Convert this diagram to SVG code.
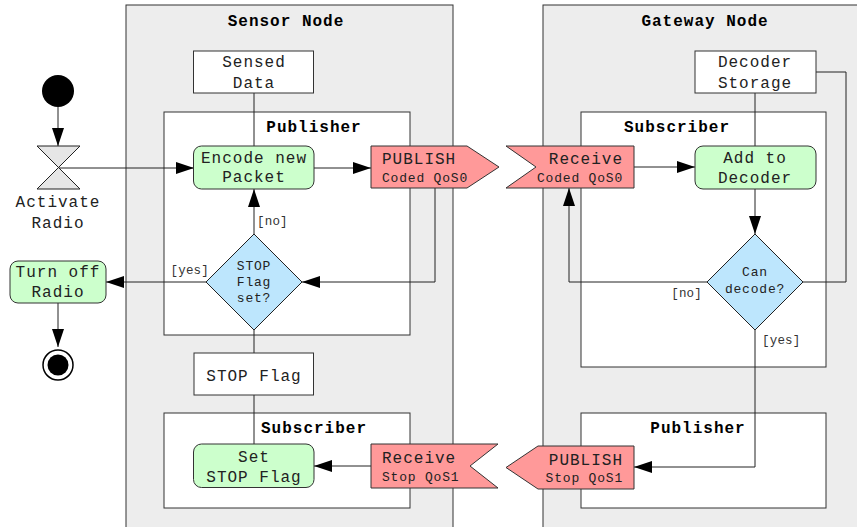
<svg xmlns="http://www.w3.org/2000/svg" width="857" height="527" viewBox="0 0 857 527">
<defs>
<marker id="arr" markerUnits="userSpaceOnUse" markerWidth="18" markerHeight="12" refX="18" refY="6" orient="auto">
<path d="M0,0 L18,6 L0,12 z" fill="#000"/>
</marker>
<style>
.lane{fill:#ededed;stroke:#333;stroke-width:1}
.frame{fill:#fff;stroke:#333;stroke-width:1}
.box{fill:#fff;stroke:#333;stroke-width:1}
.act{fill:#ccffcc;stroke:#333;stroke-width:1}
.sig{fill:#ff9999;stroke:#333;stroke-width:1}
.dec{fill:#bde6fd;stroke:#222;stroke-width:1}
.ln{fill:none;stroke:#222;stroke-width:1}
.ar{fill:none;stroke:#222;stroke-width:1;marker-end:url(#arr)}
text{font-family:"Liberation Mono","Courier New",monospace;fill:#222}
.t{font-size:16px;letter-spacing:1px}
.s{font-size:13px;letter-spacing:0.8px}
.g{font-size:12.5px;letter-spacing:0.2px;fill:#333}
.b{font-size:16px;letter-spacing:1px;font-weight:bold;fill:#000}
.m{text-anchor:middle}
.e{text-anchor:end}
</style>
</defs>

<g id="lanes">
<g id="sensor-node">
<rect class="lane" x="126" y="5" width="327" height="530"/>
<text class="b m" x="286" y="26">Sensor Node</text>
</g>
<g id="gateway-node">
<rect class="lane" x="543" y="5" width="330" height="530"/>
<text class="b m" x="705" y="26">Gateway Node</text>
</g>
</g>

<g id="frames">
<g id="sensor-publisher">
<rect class="frame" x="164" y="112" width="246" height="223"/>
<text class="b m" x="314" y="132">Publisher</text>
</g>
<g id="sensor-subscriber">
<rect class="frame" x="164" y="413" width="246" height="95"/>
<text class="b m" x="314" y="433">Subscriber</text>
</g>
<g id="gateway-subscriber">
<rect class="frame" x="581" y="112" width="245" height="255"/>
<text class="b m" x="677" y="132">Subscriber</text>
</g>
<g id="gateway-publisher">
<rect class="frame" x="581" y="413" width="245" height="95"/>
<text class="b m" x="698" y="433">Publisher</text>
</g>
</g>

<g id="connectors">
<line class="ar" x1="58" y1="107" x2="58" y2="146"/>
<line class="ar" x1="58" y1="168" x2="194" y2="168"/>
<line class="ln" x1="254" y1="93" x2="254" y2="146"/>
<line class="ar" x1="314" y1="168" x2="371" y2="168"/>
<polyline class="ar" points="435,188 435,282 302,282"/>
<line class="ar" x1="254" y1="234" x2="254" y2="189"/>
<line class="ar" x1="206" y1="282" x2="106" y2="282"/>
<line class="ar" x1="58" y1="303" x2="58" y2="347"/>
<line class="ln" x1="254" y1="329" x2="254" y2="353"/>
<line class="ln" x1="254" y1="395" x2="254" y2="444"/>
<line class="ar" x1="371" y1="466" x2="314" y2="466"/>
<line class="ar" x1="634" y1="167" x2="695" y2="167"/>
<line class="ln" x1="755" y1="93" x2="755" y2="146"/>
<polyline class="ln" points="816,72 846,72 846,282 803,282"/>
<line class="ar" x1="755" y1="189" x2="755" y2="234"/>
<polyline class="ar" points="707,282 569,282 569,188"/>
<polyline class="ar" points="755,330 755,467 634,467"/>
<text class="g" x="257" y="225">[no]</text>
<text class="g e" x="209" y="274">[yes]</text>
<text class="g e" x="702" y="297">[no]</text>
<text class="g" x="762" y="344">[yes]</text>
</g>

<g id="start">
<circle cx="58" cy="91" r="16" fill="#000"/>
</g>

<g id="activate-radio">
<polygon points="37,146 80,146 37,189 80,189" fill="#e6e6e6" stroke="#222" stroke-width="1"/>
<text class="t m" x="58" y="207">Activate</text>
<text class="t m" x="58" y="228">Radio</text>
</g>

<g id="sensed-data">
<rect class="box" x="193.5" y="51" width="120" height="42"/>
<text class="t m" x="254" y="67">Sensed</text>
<text class="t m" x="254" y="88">Data</text>
</g>

<g id="encode-packet">
<rect class="act" x="193.5" y="146" width="120.5" height="43" rx="8"/>
<text class="t m" x="254" y="163">Encode new</text>
<text class="t m" x="254" y="182">Packet</text>
</g>

<g id="publish-coded">
<polygon class="sig" points="371,146 467,146 499,167 467,188 371,188"/>
<text class="t" x="382" y="164">PUBLISH</text>
<text class="s" x="382" y="182">Coded QoS0</text>
</g>

<g id="stop-flag-decision">
<polygon class="dec" points="254,234 302,282 254,330 206,282"/>
<text class="s m" x="254" y="270">STOP</text>
<text class="s m" x="254" y="286">Flag</text>
<text class="s m" x="254" y="302">set?</text>
</g>

<g id="turn-off-radio">
<rect class="act" x="10" y="261" width="96" height="42" rx="8"/>
<text class="t m" x="58" y="277">Turn off</text>
<text class="t m" x="58" y="296.5">Radio</text>
</g>

<g id="end">
<circle cx="58" cy="365" r="15" fill="#fff" stroke="#000" stroke-width="1.5"/>
<circle cx="58" cy="365" r="10.5" fill="#000"/>
</g>

<g id="stop-flag">
<rect class="box" x="194" y="353" width="119.5" height="42"/>
<text class="t m" x="254" y="381">STOP Flag</text>
</g>

<g id="set-stop-flag">
<rect class="act" x="193.5" y="444" width="120.5" height="43.5" rx="8"/>
<text class="t m" x="254" y="462">Set</text>
<text class="t m" x="254" y="481.5">STOP Flag</text>
</g>

<g id="receive-stop">
<polygon class="sig" points="371,444 498,444 470,466 498,488 371,488"/>
<text class="t" x="382" y="463">Receive</text>
<text class="s" x="382" y="480.5">Stop QoS1</text>
</g>

<g id="receive-coded">
<polygon class="sig" points="506,146 634,146 634,188 506,188 536,167"/>
<text class="t e" x="623" y="164">Receive</text>
<text class="s e" x="623" y="182">Coded QoS0</text>
</g>

<g id="decoder-storage">
<rect class="box" x="695" y="51" width="121" height="42"/>
<text class="t m" x="755" y="67">Decoder</text>
<text class="t m" x="755" y="88">Storage</text>
</g>

<g id="add-to-decoder">
<rect class="act" x="695" y="146" width="121" height="43" rx="8"/>
<text class="t m" x="755" y="163">Add to</text>
<text class="t m" x="755" y="182.5">Decoder</text>
</g>

<g id="can-decode">
<polygon class="dec" points="755,234 803,282 755,330 707,282"/>
<text class="s m" x="755" y="276">Can</text>
<text class="s m" x="755" y="293">decode?</text>
</g>

<g id="publish-stop">
<polygon class="sig" points="506,467.5 538,446 634,446 634,489 538,489"/>
<text class="t e" x="623" y="464.5">PUBLISH</text>
<text class="s e" x="623" y="482">Stop QoS1</text>
</g>
</svg>
